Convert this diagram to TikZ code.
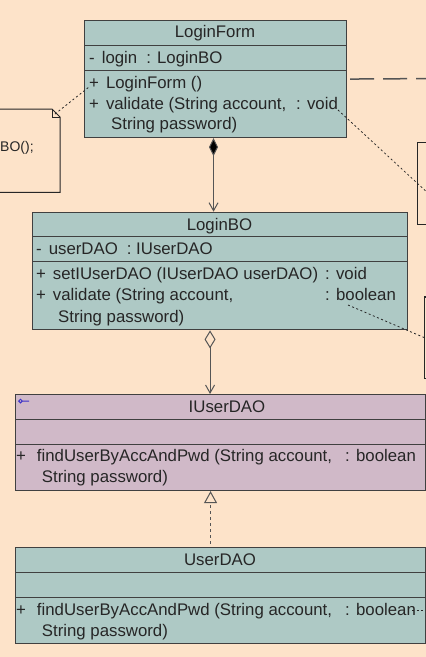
\documentclass[tikz,border=0pt]{standalone}
\usepackage{fontspec}
\setmainfont{Liberation Sans}
\usepackage{xcolor}
\usepackage{tikz}
\usetikzlibrary{positioning,arrows.meta,calc}
\definecolor{paper}{HTML}{FDE3C9}
\definecolor{classteal}{HTML}{AEC9C5}
\definecolor{ifacemauve}{HTML}{D0B9C8}
\definecolor{ink}{HTML}{262626}
\definecolor{rim}{HTML}{404040}
\definecolor{linkgrey}{HTML}{555555}
\definecolor{iconblue}{HTML}{3A30C8}
\newcommand{\vis}[1]{#1\hspace{7pt}}

\begin{document}
\begin{tikzpicture}[
  x=1pt, y=-1pt,
  font=\fontsize{16.8}{21.7}\selectfont,
  classbox/.style={draw=rim, line width=1.1pt, anchor=north west, inner sep=0pt},
  sep/.style={draw=rim, line width=1pt},
  txt/.style={inner sep=0pt, anchor=base west, text=ink},
  title/.style={txt, anchor=base},
  ghost/.style={inner sep=0pt, anchor=north west},
  noteline/.style={draw=ink, line width=1pt},
  notelink/.style={draw=ink, line width=0.8pt, dash pattern=on 2pt off 2.5pt},
  depend/.style={draw=linkgrey, line width=1.5pt, dash pattern=on 24pt off 9pt},
  compo/.style={draw=linkgrey, line width=1pt,
    {Diamond[length=18pt,width=9pt,fill=black]}-{Straight Barb[length=8pt,width=9pt]}},
  aggr/.style={draw=linkgrey, line width=1pt,
    {Diamond[open,length=18pt,width=11pt]}-{Straight Barb[length=8pt,width=9pt]}},
  realize/.style={draw=linkgrey, line width=1pt, dash pattern=on 3pt off 3pt,
    shorten <=3pt, -{Triangle[open,length=12pt,width=13pt]}},
]
\path[use as bounding box] (0,0) rectangle (426,657);
\fill[paper] (0,0) rectangle (426,657);
\clip (0,0) rectangle (426,657);

% notes
\node[ghost, minimum width=90pt, minimum height=83pt, anchor=north east] (noteleft) at (60,109) {};
\draw[noteline] (noteleft.north west) -- ([xshift=-8pt]noteleft.north east)
  -- ([yshift=-8pt]noteleft.north east) -- (noteleft.south east) -- (noteleft.south west);
\draw[noteline] ([xshift=-8pt]noteleft.north east) -- ++(0,8) -- ([yshift=-8pt]noteleft.north east);
\node[txt, font=\fontsize{14}{17}\selectfont] (noteleftText) at (0,151.5) {BO();};
\node[ghost, minimum width=90pt, minimum height=81pt] (noteright) at (417.5,142.7) {};
\draw[noteline] (noteright.north east) -- (noteright.north west) -- (noteright.south west) -- (noteright.south east);
\node[ghost, minimum width=90pt, minimum height=81pt] (notebo) at (424.5,297) {};
\draw[noteline, line width=1.4pt] (notebo.north east) -- (notebo.north west) -- (notebo.south west) -- (notebo.south east);

% LoginForm
\node[classbox, fill=classteal, minimum width=262pt, minimum height=117pt] (loginform) at (84,20) {};
\draw[sep] ($(loginform.north west)+(0,25)$) -- ($(loginform.north east)+(0,25)$);
\draw[sep] ($(loginform.north west)+(0,50)$) -- ($(loginform.north east)+(0,50)$);
\node[title] (loginformName) at (215,37.3) {LoginForm};
\node[txt] (loginformAttr) at (89,63.3) {\vis{-}login\hspace{9pt}: LoginBO};
\node[txt] (loginformCtor) at (89,88.3) {\vis{+}LoginForm ()};
\node[txt] (loginformVal) at (89,109) {\vis{+}validate (String account,};
\node[txt] (loginformValRet) at (296,109) {: void};
\node[txt] (loginformValArg) at (111,129.5) {String password)};

% LoginBO
\node[classbox, fill=classteal, minimum width=375pt, minimum height=117.6pt] (loginbo) at (32,211.7) {};
\draw[sep] ($(loginbo.north west)+(0,24.3)$) -- ($(loginbo.north east)+(0,24.3)$);
\draw[sep] ($(loginbo.north west)+(0,50)$) -- ($(loginbo.north east)+(0,50)$);
\node[title] (loginboName) at (219.5,230) {LoginBO};
\node[txt] (loginboAttr) at (36,254.3) {\vis{-}userDAO\hspace{9pt}: IUserDAO};
\node[txt] (loginboSet) at (36,279.3) {\vis{+}setIUserDAO (IUserDAO userDAO)};
\node[txt] (loginboSetRet) at (325,279.3) {: void};
\node[txt] (loginboVal) at (36,300.7) {\vis{+}validate (String account,};
\node[txt] (loginboValRet) at (325,300.7) {: boolean};
\node[txt] (loginboValArg) at (58,322) {String password)};

% IUserDAO
\node[classbox, fill=ifacemauve, minimum width=410pt, minimum height=96pt] (iuserdao) at (15,394) {};
\draw[sep] ($(iuserdao.north west)+(0,25)$) -- ($(iuserdao.north east)+(0,25)$);
\draw[sep] ($(iuserdao.north west)+(0,50)$) -- ($(iuserdao.north east)+(0,50)$);
\draw[iconblue, line width=1pt] (20.5,401) circle (1.8) (22.3,401) -- (29,401);
\node[title] (iuserdaoName) at (227,412.3) {IUserDAO};
\node[txt] (iuserdaoFind) at (16,461.7) {+\hspace{11pt}findUserByAccAndPwd (String account,};
\node[txt] (iuserdaoFindRet) at (345,461.7) {: boolean};
\node[txt] (iuserdaoFindArg) at (41.7,482.7) {String password)};

% UserDAO
\node[classbox, fill=classteal, minimum width=410pt, minimum height=96.6pt] (userdao) at (15,546.7) {};
\draw[sep] ($(userdao.north west)+(0,25.6)$) -- ($(userdao.north east)+(0,25.6)$);
\draw[sep] ($(userdao.north west)+(0,51)$) -- ($(userdao.north east)+(0,51)$);
\node[title] (userdaoName) at (220,565) {UserDAO};
\node[txt] (userdaoFind) at (16,615) {+\hspace{11pt}findUserByAccAndPwd (String account,};
\node[txt] (userdaoFindRet) at (345,615) {: boolean};
\node[txt] (userdaoFindArg) at (41.7,636) {String password)};

% relations
\draw[compo] ([xshift=-2pt]loginform.south) -- ([xshift=-2pt]loginform.south |- loginbo.north);
\draw[aggr] ([xshift=-10pt]loginbo.south) -- ([xshift=-10pt]loginbo.south |- iuserdao.north);
\draw[realize] ([xshift=-10pt]userdao.north) -- ([xshift=-10pt]userdao.north |- iuserdao.south);

% note links
\coordinate (lfNoteL) at (89,87);
\coordinate (lfNoteR) at (338,110);
\coordinate (boNote) at (348,305);
\coordinate (udNote) at (412,610.5);
\coordinate (offDep) at (440,78.5);
\draw[notelink] ([shift={(-5,5)}]noteleft.north east) -- (lfNoteL);
\draw[notelink] (lfNoteR) -- ($(lfNoteR)!1.15!(noteright.west)$);
\draw[notelink] (boNote) -- ($(boNote)!1.1!(notebo.west)$);
\draw[notelink] (udNote) -- ++(20,0);
\draw[depend] ([xshift=3pt]loginform.east) -- (offDep);
\end{tikzpicture}
\end{document}
